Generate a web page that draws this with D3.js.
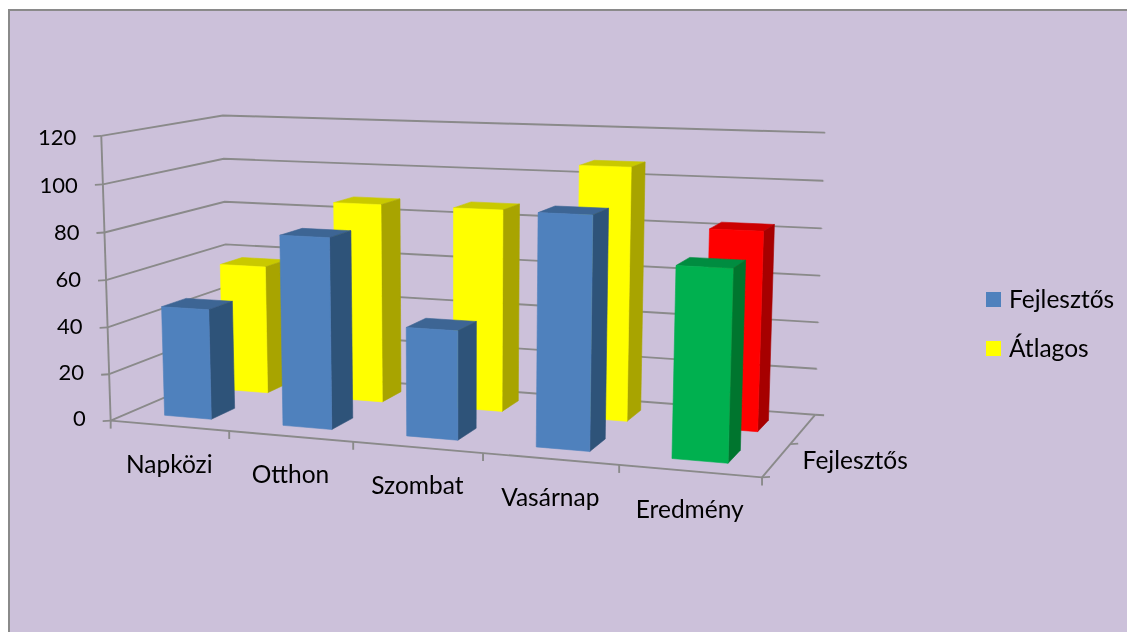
<!DOCTYPE html>
<html><head><meta charset="utf-8">
<script src="https://cdn.jsdelivr.net/npm/d3@7/dist/d3.min.js"></script>
<style>html,body{margin:0;padding:0;background:#fff;overflow:hidden}svg{display:block}text{font-family:Lato,"Open Sans",sans-serif;fill:#000}</style>
</head><body><svg id="c" width="1127" height="632"><defs><filter id="soft" x="-2%" y="-2%" width="104%" height="104%"><feGaussianBlur stdDeviation="0.45"/></filter></defs></svg>
<script>
const categories = ["Napközi","Otthon","Szombat","Vasárnap","Eredmény"];
const seriesNames = ["Fejlesztős","Átlagos"];
const fejlesztos = [47,80,45,94,76];
const atlagos = [57,87,87,107,83];
const valueTicks = [0,20,40,60,80,100,120];
const depthLabels = ["Fejlesztős"];
const seriesColors = ["#4f81bd","#ffff00"];
const pointColors = [[null,null,null,null,"#00b050"],[null,null,null,null,"#ff0000"]];
const shade = {"#4f81bd":["#3c6594","#2f5279"],"#ffff00":["#c9c900","#a8a400"],"#00b050":["#008c3f","#00752f"],"#ff0000":["#cc0000","#a60000"]};

// calibration of the 3D box: [x,y,z] unit cube -> screen
const calib = [[0,0,0,110,419],[1,0,0,762,479],[1,0,1,815,413],[0,0,1,229,372],[0,1,0,102,136],[0,1,1,222,115],[1,1,1,825,133]];
function solveProjection(pts){
  const rows=[],rhs=[];
  pts.forEach(([X,Y,Z,u,v])=>{u/=1000;v/=1000;
    rows.push([X,Y,Z,1,0,0,0,0,-u*X,-u*Y,-u*Z]);rhs.push(u);
    rows.push([0,0,0,0,X,Y,Z,1,-v*X,-v*Y,-v*Z]);rhs.push(v);});
  const n=11,A=d3.range(n).map(i=>d3.range(n+1).map(j=>0));
  rows.forEach((r,k)=>{for(let i=0;i<n;i++){for(let j=0;j<n;j++)A[i][j]+=r[i]*r[j];A[i][n]+=r[i]*rhs[k];}});
  for(let i=0;i<n;i++){let p=i;for(let k=i+1;k<n;k++)if(Math.abs(A[k][i])>Math.abs(A[p][i]))p=k;[A[i],A[p]]=[A[p],A[i]];
    for(let k=0;k<n;k++)if(k!==i){const f=A[k][i]/A[i][i];for(let j=i;j<=n;j++)A[k][j]-=f*A[i][j];}}
  return A.map((r,i)=>r[n]/r[i]);
}
const M=solveProjection(calib);
function P(x,y,z){const w=M[8]*x+M[9]*y+M[10]*z+1;return [1000*(M[0]*x+M[1]*y+M[2]*z+M[3])/w,1000*(M[4]*x+M[5]*y+M[6]*z+M[7])/w];}

const xBand=d3.scaleBand().domain(categories).range([0,1]).paddingInner(0.6).paddingOuter(0.3);
const zBand=d3.scaleBand().domain(seriesNames).range([0,1]).paddingInner(0.6).paddingOuter(0.3);
const yS=d3.scaleLinear().domain([0,120]).range([0,1]);
const line=d3.line();
const svg=d3.select("#c");
svg.append("rect").attr("x",9).attr("y",10).attr("width",1130).attr("height",640).attr("fill","#ccc1da").attr("stroke","#8a8a8a").attr("stroke-width",2);

const g=svg.append("g").attr("filter","url(#soft)");
const gridC="#8a8a8a",gw=1.9;
function seg(a,b,w){g.append("path").attr("d",line([a,b])).attr("stroke",gridC).attr("stroke-width",w||gw).attr("fill","none");}
valueTicks.forEach(v=>{const y=yS(v);
  g.append("path").attr("d",line([P(0,y,0),P(0,y,1),P(1,y,1)])).attr("stroke",gridC).attr("stroke-width",gw).attr("fill","none");
  const p=P(0,y,0);seg([p[0]-8,p[1]+0.5],p);
  const e=P(1,y,1);seg(e,[e[0]+ (v===0?9:0),e[1]+0.5]);
  g.append("text").attr("x",p[0]-25).attr("y",p[1]+5+4*y).attr("text-anchor","end").attr("font-size",22).text(v);
});
seg(P(0,0,0),P(0,1,0));
seg(P(0,0,0),P(1,0,0));
seg(P(1,0,0),P(1,0,1));
d3.range(categories.length+1).forEach(i=>{const p=P(i/categories.length,0,0);seg(p,[p[0],p[1]+8]);});
categories.forEach((c,i)=>{const p=P((i+.5)/categories.length,0,0);
  g.append("text").attr("x",p[0]).attr("y",p[1]+47).attr("text-anchor","middle").attr("font-size",24.5).text(c);});
[0,.5].forEach(z=>{const p=P(1,0,z);seg(p,[p[0]+8,p[1]-.5]);});
const dp=P(1,0,.25);
g.append("text").attr("x",dp[0]+26).attr("y",dp[1]+9).attr("font-size",24.5).text(depthLabels[0]);

const data=[fejlesztos,atlagos];
function bar(s,i){
  const v=data[s][i],base=pointColors[s][i]||seriesColors[s];
  const x0=xBand(categories[i]),x1=x0+xBand.bandwidth(),z0=zBand(seriesNames[s]),z1=z0+zBand.bandwidth(),y=yS(v);
  const face=(pts,col)=>g.append("path").attr("d",line(pts)+"Z").attr("fill",col).attr("stroke",col).attr("stroke-width",.6);
  face([P(x0,y,z0),P(x1,y,z0),P(x1,y,z1),P(x0,y,z1)],shade[base][0]);
  face([P(x1,0,z0),P(x1,0,z1),P(x1,y,z1),P(x1,y,z0)],shade[base][1]);
  face([P(x0,0,z0),P(x1,0,z0),P(x1,y,z0),P(x0,y,z0)],base);
}
[1,0].forEach(s=>categories.forEach((c,i)=>bar(s,i)));

seriesNames.forEach((n,i)=>{const y=[292,341][i];
  g.append("rect").attr("x",986).attr("y",y).attr("width",15).attr("height",15).attr("fill",seriesColors[i]);
  g.append("text").attr("x",1009).attr("y",y+16).attr("font-size",24.5).text(n);
});
</script></body></html>
